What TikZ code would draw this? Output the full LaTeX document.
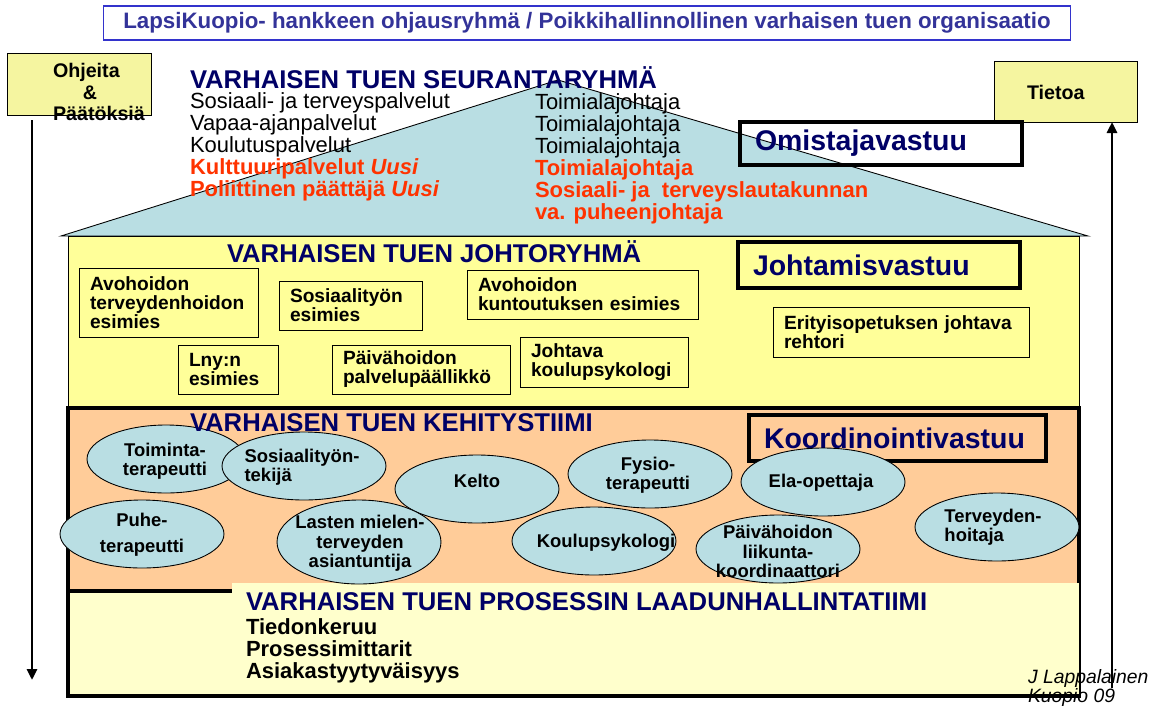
\documentclass[tikz,border=0pt]{standalone}
\usepackage{fontspec}
\setmainfont{Liberation Sans}
\usetikzlibrary{shapes.geometric,arrows.meta}
\definecolor{navy}{HTML}{000066}
\definecolor{titleblue}{HTML}{333399}
\definecolor{frameblue}{HTML}{3333CC}
\definecolor{redtxt}{HTML}{FF3300}
\definecolor{roofcyan}{HTML}{B9DEE3}
\definecolor{paleyellow}{HTML}{FFFF99}
\definecolor{sideyellow}{HTML}{F5F5A0}
\definecolor{peach}{HTML}{FFCC99}
\definecolor{cream}{HTML}{FFFFCC}

\begin{document}
\begin{tikzpicture}[x=0.02cm, y=-0.02cm]
	\tikzstyle{every node} = [inner sep=0pt, outer sep=0pt]
	\tikzstyle{head} = [anchor=west, text=navy, font=\bfseries\fontsize{14.6}{16}\selectfont]
	\tikzstyle{rooftext} = [anchor=north west, align=left, font=\fontsize{12.5}{12.5}\selectfont]
	\tikzstyle{duty} = [draw, line width=2.2pt, text=navy, align=left, inner xsep=0.3cm, font=\bfseries\fontsize{16.2}{18}\selectfont]
	\tikzstyle{lead} = [draw, fill=paleyellow, line width=0.5pt, align=left, inner xsep=0.22cm, font=\bfseries\fontsize{10.9}{10.8}\selectfont]
	\tikzstyle{boxtext} = [font=\bfseries\fontsize{11.2}{10.8}\selectfont]
	\tikzstyle{blob} = [ellipse, draw, fill=roofcyan, line width=0.5pt, minimum width=3.28cm, minimum height=1.36cm]
	\tikzstyle{blobtext} = [align=center, font=\bfseries\fontsize{10.5}{11}\selectfont]
	\tikzstyle{sidebox} = [draw, fill=sideyellow, line width=0.5pt]
	\tikzstyle{flow} = [-{Triangle[length=0.22cm, width=0.2cm]}, line width=1.6pt]
	\useasboundingbox (0,0) rectangle (1150,708);

	\node[draw=frameblue, line width=0.6pt, minimum width=19.36cm, minimum height=0.68cm, text=titleblue, font=\bfseries\fontsize{12.7}{14}\selectfont] (title) at (587,23) {LapsiKuopio- hankkeen ohjausryhmä / Poikkihallinnollinen varhaisen tuen organisaatio};

	\node[sidebox, minimum width=2.88cm, minimum height=1.24cm] (ohjeita) at (79,84) {};
	\node[boxtext, anchor=west, align=left] (ohjeita-t) at (53,92) {Ohjeita\\[1.2pt]\hspace*{0.6cm}\&\\[1.2pt]Päätöksiä};
	\node[sidebox, minimum width=2.86cm, minimum height=1.22cm] (tietoa) at (1065.5,91.5) {};
	\node[boxtext, anchor=west] (tietoa-t) at (1027,92) {Tietoa};
	\coordinate (down-end) at (32,680);
	\coordinate (up-start) at (1112,688);
	\draw[flow, shorten <=0.1cm] (ohjeita.south -| down-end) -- (down-end);
	\draw[flow] (up-start) -- (up-start |- tietoa.south);

	\draw[fill=roofcyan, line width=0.5pt] (61,236) -- (558,80) -- (1088,236) -- cycle;
	\draw[fill=paleyellow, line width=0.5pt] (68,236) rectangle (1079,408);
	\draw[fill=peach, line width=2.2pt] (68,408) rectangle (1079,591);
	\draw[fill=cream, line width=2.2pt] (68,591) rectangle (1079,696);
	\fill[cream] (232,583) rectangle (1079,694);

	\node[head] (seuranta) at (190,78) {VARHAISEN TUEN SEURANTARYHMÄ};
	\node[rooftext] (sectors) at (190,93) {Sosiaali- ja terveyspalvelut\\Vapaa-ajanpalvelut\\Koulutuspalvelut\\{\color{redtxt}\bfseries Kulttuuripalvelut \itshape Uusi}\\{\color{redtxt}\bfseries Poliittinen päättäjä \itshape Uusi}};
	\node[rooftext] (chiefs) at (535,94) {Toimialajohtaja\\Toimialajohtaja\\Toimialajohtaja\\{\color{redtxt}\bfseries Toimialajohtaja}\\{\color{redtxt}\bfseries Sosiaali- ja~ terveyslautakunnan}\\{\color{redtxt}\bfseries va. puheenjohtaja}};
	\node[duty, text width=5.04cm, minimum height=0.86cm] (owner) at (881,143.5) {Omistajavastuu};

	\node[head] (johto) at (227,252) {VARHAISEN TUEN JOHTORYHMÄ};
	\node[duty, text width=5.04cm, minimum height=0.92cm] (mgmt) at (879,265) {Johtamisvastuu};
	\node[lead, text width=3.14cm, minimum height=1.38cm] (avoterv) at (168.5,302.5) {Avohoidon\\terveydenhoidon\\esimies};
	\node[lead, text width=2.42cm, minimum height=0.98cm] (sosesim) at (350.5,305.5) {Sosiaalityön\\esimies};
	\node[lead, text width=4.18cm, minimum height=0.98cm] (avokunt) at (582.5,294.5) {Avohoidon\\kuntoutuksen esimies};
	\node[lead, text width=4.68cm, minimum height=1cm] (erityis) at (901,332) {Erityisopetuksen johtava\\rehtori};
	\node[lead, text width=1.56cm, minimum height=0.98cm] (lny) at (228,369.5) {Lny:n\\esimies};
	\node[lead, text width=3.12cm, minimum height=0.98cm] (paivapalv) at (421,369.5) {Päivähoidon\\palvelupäällikkö};
	\node[lead, text width=2.92cm, minimum height=1cm] (johtpsyk) at (604,362) {Johtava\\koulupsykologi};

	\node[duty, text width=5.34cm, minimum height=0.92cm] (coord) at (897.5,438) {Koordinointivastuu};
	\node[blob, minimum width=3.16cm] (toim) at (166,459) {};
	\node[blob] (sostyo) at (304,466) {};
	\node[blob] (kelto) at (477,489) {};
	\node[blob] (fysio) at (650,474) {};
	\node[blob] (ela) at (823,482) {};
	\node[blob] (puhe) at (142,534) {};
	\node[blob, minimum height=1.68cm] (lasten) at (359,542) {};
	\node[blob] (koulu) at (594,541) {};
	\node[blob] (paiva) at (778,549) {};
	\node[blob] (terv) at (997,527) {};
	\node[blobtext] (toim-t) at (165,461) {Toiminta-\\terapeutti};
	\node[blobtext, align=left] (sostyo-t) at (302,467.5) {Sosiaalityön-\\tekijä};
	\node[blobtext] (kelto-t) at (477,481) {Kelto};
	\node[blobtext] (fysio-t) at (648,475.5) {Fysio-\\terapeutti};
	\node[blobtext] (ela-t) at (821,483) {Ela-opettaja};
	\node[blobtext] (puhe-t) at (142,534.5) {Puhe-\\[4pt]terapeutti};
	\node[blobtext] (lasten-t) at (360,543.5) {Lasten mielen-\\terveyden\\asiantuntija};
	\node[blobtext] (koulu-t) at (606,543) {Koulupsykologi};
	\node[blobtext] (paiva-t) at (778,551.5) {Päivähoidon\\liikunta-\\koordinaattori};
	\node[blobtext, align=left] (terv-t) at (993,527.5) {Terveyden-\\hoitaja};
	\node[head] (kehitys) at (190,423) {VARHAISEN TUEN KEHITYSTIIMI};

	\node[head] (laatu) at (246,602) {VARHAISEN TUEN PROSESSIN LAADUNHALLINTATIIMI};
	\node[rooftext, font=\bfseries\fontsize{12.5}{12.5}\selectfont] (laatu-t) at (246,619) {Tiedonkeruu\\Prosessimittarit\\Asiakastyytyväisyys};
	\node[anchor=north west, align=left, font=\itshape\fontsize{11}{10}\selectfont] (author) at (1028,669) {J Lappalainen\\Kuopio 09};
\end{tikzpicture}
\end{document}
